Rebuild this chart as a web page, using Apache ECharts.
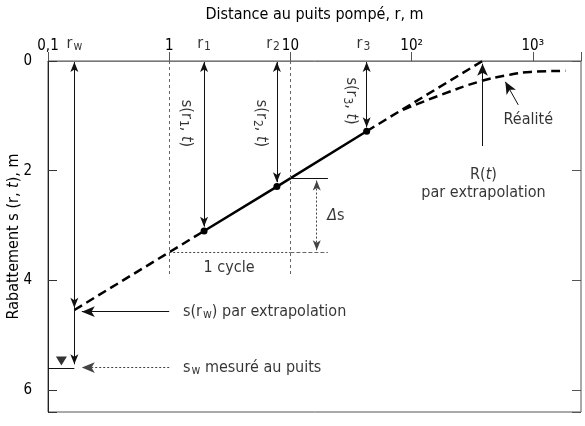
<!DOCTYPE html>
<html>
<head>
<meta charset="utf-8">
<script src="https://cdn.jsdelivr.net/npm/echarts@6/dist/echarts.min.js"></script>
<style>
html,body{margin:0;padding:0;background:#fff;}
#main{width:585px;height:426px;}
</style>
</head>
<body>
<div id="main"></div>
<script>
// decade ticks of the distance axis
var decadeTicks = [0.1, 1, 10, 100, 1000];
var decadeLabels = ['0,1', '1', '10', '10²', '10³'];
// well and piezometers : rw, r1, r2, r3
var wellNames = ['w', '1', '2', '3'];
var wellRadius = [0.165, 1.94, 7.74, 42.6];
var wellDrawdown = [4.54, 3.10, 2.29, 1.28];
var influenceRadius = 385;
// real drawdown curve far from the well
var realiteR = [85, 174, 369, 616, 955, 1860];
var realiteS = [0.89, 0.62, 0.37, 0.26, 0.20, 0.18];
var swMeasured = 5.59;
var cycleS = [2.14, 3.49];   // s at r = 10 and r = 1

var FONT = '"DejaVu Sans Condensed", "Liberation Sans Narrow", "Liberation Sans", sans-serif';
var INK = '#000';

function rich(size){
    return {
        n: {fontFamily: FONT, fontSize: size, color: INK},
        i: {fontFamily: FONT, fontSize: size, fontStyle: 'italic', color: INK},
        b: {fontFamily: FONT, fontSize: Math.round(size * 0.72), color: INK, padding: [7, 0, 0, 1]}
    };
}

function txt(r, s, text, extra){
    var label = {show: true, position: 'inside', formatter: text, rich: rich(16),
        fontFamily: FONT, fontSize: 16, color: INK};
    for (var k in extra) label[k] = extra[k];
    return {value: [r, s], label: label};
}

function arrow(a, b, symA, symB, style, size){
    var sz = size || [6, 10];
    return [
        {coord: a, symbol: symA, symbolSize: sz, lineStyle: style},
        {coord: b, symbol: symB, symbolSize: sz}
    ];
}

var thin = {color: '#111', width: 1, type: 'solid'};
var dotted = {color: '#444', width: 1, type: [2, 2]};
var grayDash = {color: '#666', width: 1, type: [3, 3]};

var chart = echarts.init(document.getElementById('main'));

var pts = [];
for (var i = 1; i < wellRadius.length; i++) pts.push([wellRadius[i], wellDrawdown[i]]);
var realite = [];
for (var j = 0; j < realiteR.length; j++) realite.push([realiteR[j], realiteS[j]]);

var labels = [];
for (var k = 0; k < wellNames.length; k++) {
    var rx = k === 2 ? 7.2 : (k === 3 ? 40 : wellRadius[k]);
    labels.push(txt(rx, 0, '{n|r}{b|' + wellNames[k] + '}', {position: 'top', distance: 8}));
}
labels.push(txt(1.38, 1.14, '{n|s(r}{b|1}{n|, }{i|t}{n|)}', {rotate: -90}));
labels.push(txt(5.7, 1.14, '{n|s(r}{b|2}{n|, }{i|t}{n|)}', {rotate: -90}));
labels.push(txt(31.5, 0.73, '{n|s(r}{b|3}{n|, }{i|t}{n|)}', {rotate: -90}));
labels.push(txt(3.12, 3.78, '1 cycle'));
labels.push(txt(23.7, 2.82, '{i|Δ}{n|s}'));
labels.push(txt(392, 2.08, '{n|R(}{i|t}{n|)}'));
labels.push(txt(392, 2.41, 'par extrapolation'));
labels.push(txt(918, 1.08, 'Réalité'));
labels.push(txt(1.30, 4.57, '{n|s(r}{b|w}{n|) par extrapolation}', {position: 'right', distance: 0}));
labels.push(txt(1.30, 5.59, '{n|s}{b|w}{n| mesuré au puits}', {position: 'right', distance: 0}));

var option = {
    animation: false,
    backgroundColor: '#fff',
    grid: {left: 48, right: 4, top: 61, bottom: 14, outerBoundsMode: 'none', containLabel: false,
        show: true, borderColor: '#555', borderWidth: 1},
    xAxis: [
        {
            type: 'log', logBase: 10, min: 0.1, max: 2500, position: 'top',
            name: 'Distance au puits pompé, r, m', nameLocation: 'middle', nameGap: 38,
            nameTextStyle: {fontFamily: FONT, fontSize: 16, color: INK},
            axisLine: {show: true, lineStyle: {color: '#777'}},
            axisTick: {show: false}, splitLine: {show: false}, minorTick: {show: false},
            axisLabel: {
                margin: 7, fontFamily: FONT, fontSize: 15, color: INK,
                formatter: function (v) {
                    for (var n = 0; n < decadeTicks.length; n++) {
                        if (Math.abs(Math.log10(v) - Math.log10(decadeTicks[n])) < 1e-6) return decadeLabels[n];
                    }
                    return '';
                }
            }
        },
        {
            type: 'log', logBase: 10, min: 0.1, max: 2500, position: 'bottom',
            axisLine: {show: false}, axisLabel: {show: false}, splitLine: {show: false},
            axisTick: {show: true, inside: true, length: 9, lineStyle: {color: '#555'}}
        }
    ],
    yAxis: [
        {
            type: 'value', inverse: true, min: 0, max: 6.4, interval: 2,
            name: 'Rabattement s (r, {i|t}), m', nameLocation: 'middle', nameGap: 26,
            nameMoveOverlap: false,
            nameTextStyle: {fontFamily: FONT, fontSize: 16, color: INK, rich: rich(16)},
            axisLine: {show: true, lineStyle: {color: '#222'}},
            axisTick: {show: true, inside: true, length: 9, lineStyle: {color: '#333'}},
            splitLine: {show: false},
            axisLabel: {
                margin: 16, fontFamily: FONT, fontSize: 15, color: INK,
                formatter: function (v) { return v % 2 === 0 ? String(v) : ''; }
            }
        },
        {
            type: 'value', inverse: true, min: 0, max: 6.4, interval: 2, position: 'right',
            axisLine: {show: false}, axisLabel: {show: false}, splitLine: {show: false},
            axisTick: {show: true, inside: true, length: 9, lineStyle: {color: '#555'}}
        }
    ],
    series: [
        {
            name: 'extrapolation puits', type: 'line', symbol: 'none', silent: true,
            lineStyle: {color: INK, width: 2.5, type: [9, 5]},
            data: [[wellRadius[0], wellDrawdown[0]], [wellRadius[1], wellDrawdown[1]]]
        },
        {
            name: 'mesures', type: 'line', symbol: 'circle', symbolSize: 7, silent: true,
            itemStyle: {color: INK}, lineStyle: {color: INK, width: 2.5},
            data: pts
        },
        {
            name: 'extrapolation R', type: 'line', symbol: 'none', silent: true,
            lineStyle: {color: INK, width: 2.5, type: [9, 5]},
            data: [[wellRadius[3], wellDrawdown[3]], [influenceRadius, 0]]
        },
        {
            name: 'Réalité', type: 'line', symbol: 'none', smooth: true, silent: true,
            lineStyle: {color: INK, width: 2.5, type: [9, 5]},
            data: realite
        },
        {
            name: 'niveau', type: 'scatter', symbol: 'triangle', symbolRotate: 180, symbolSize: [11, 9],
            silent: true, itemStyle: {color: INK},
            data: [[0.129, 5.47]]
        },
        {
            name: 'annotations', type: 'line', data: [], silent: true,
            markLine: {
                silent: true, animation: false, label: {show: false},
                emphasis: {disabled: true},
                data: [
                    arrow([wellRadius[0], 0.02], [wellRadius[0], 4.50], 'arrow', 'arrow', thin),
                    arrow([wellRadius[0], 4.50], [wellRadius[0], 5.53], 'none', 'arrow', thin),
                    arrow([wellRadius[1], 0.02], [wellRadius[1], wellDrawdown[1] - 0.08], 'arrow', 'arrow', thin),
                    arrow([wellRadius[2], 0.02], [wellRadius[2], wellDrawdown[2] - 0.08], 'arrow', 'arrow', thin),
                    arrow([wellRadius[3], 0.02], [wellRadius[3], wellDrawdown[3] - 0.07], 'arrow', 'arrow', thin),
                    arrow([influenceRadius, 1.55], [influenceRadius, 0.05], 'none', 'arrow', thin, [8, 12]),
                    arrow([1, 0], [1, 3.9], 'none', 'none', grayDash),
                    arrow([10, 0], [10, 3.9], 'none', 'none', grayDash),
                    arrow([1, cycleS[1]], [10, cycleS[1]], 'none', 'none', dotted),
                    arrow([10, cycleS[1]], [20.4, cycleS[1]], 'none', 'none', {color: '#666', width: 1}),
                    arrow([10, cycleS[0]], [20.4, cycleS[0]], 'none', 'none', thin),
                    arrow([16.5, cycleS[0] + 0.04], [16.5, cycleS[1] - 0.04], 'arrow', 'arrow', dotted),
                    arrow([1, 4.57], [0.19, 4.57], 'none', 'arrow', thin, [8, 13]),
                    arrow([1, swMeasured], [0.19, swMeasured], 'none', 'arrow', dotted, [8, 13]),
                    arrow([0.1, 5.6], [wellRadius[0], 5.6], 'none', 'none', thin),
                    arrow([759, 0.80], [594, 0.38], 'none', 'arrow', thin, [8, 12])
                ]
            }
        },
        {
            name: 'textes', type: 'scatter', symbolSize: 0, silent: true, clip: false, z: 10,
            data: labels
        }
    ]
};
chart.setOption(option);
</script>
</body>
</html>
